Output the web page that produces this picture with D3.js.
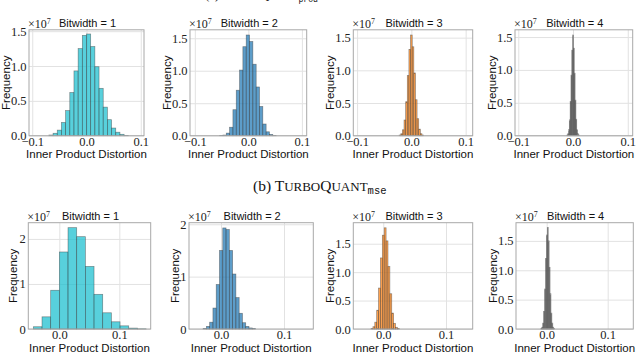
<!DOCTYPE html>
<html>
<head>
<meta charset="utf-8">
<script src="https://cdn.jsdelivr.net/npm/d3@7"></script>
<style>
  html, body { margin: 0; padding: 0; background: #fff; }
  svg { display: block; }
</style>
</head>
<body>
<svg id="chart" width="640" height="353"></svg>
<script>
// ---------------- DATA (counts in units of 1e7) ----------------
const bitwidths = [1, 2, 3, 4];

// (a) TurboQuant_prod histograms
const prodBinStart = [-0.0693, -0.0536, -0.0225, -0.01125];
const prodBinWidth = [0.0077, 0.0062, 0.003, 0.0015];
const prodCounts1 = [0.01, 0.035, 0.08, 0.19, 0.36, 0.62, 0.93, 1.25, 1.44, 1.46, 1.28, 0.99, 0.68, 0.41, 0.23, 0.11, 0.05, 0.02, 0.005];
const prodCounts2 = [0.005, 0.01, 0.04, 0.13, 0.40, 0.70, 1.01, 1.37, 1.55, 1.45, 1.10, 0.75, 0.45, 0.18, 0.06, 0.02, 0.005];
const prodCounts3 = [0.01, 0.03, 0.09, 0.24, 0.52, 0.92, 1.32, 1.54, 1.36, 0.96, 0.55, 0.26, 0.10, 0.03, 0.01];
const prodCounts4 = [0.01, 0.03, 0.09, 0.24, 0.52, 0.92, 1.30, 1.53, 1.33, 0.95, 0.54, 0.25, 0.09, 0.03, 0.01];

// (b) TurboQuant_mse histograms
const mseBinStart = [-0.0433, -0.0284, -0.0195, -0.0095];
const mseBinWidth = [0.01445, 0.0052, 0.003, 0.0015];
const mseCounts1 = [0.05, 0.27, 0.86, 1.71, 2.25, 2.05, 1.39, 0.77, 0.36, 0.16, 0.07, 0.02, 0.005];
const mseCounts2 = [0.01, 0.05, 0.13, 0.40, 0.85, 1.50, 1.93, 1.90, 1.50, 1.05, 0.60, 0.30, 0.12, 0.05, 0.02, 0.01];
const mseCounts3 = [0.01, 0.04, 0.12, 0.33, 0.72, 1.25, 1.65, 1.78, 1.55, 1.10, 0.62, 0.28, 0.10, 0.03, 0.01];
const mseCounts4 = [0.01, 0.03, 0.10, 0.30, 0.68, 1.20, 1.60, 1.73, 1.50, 1.05, 0.60, 0.27, 0.10, 0.03, 0.01];

// tick values / labels
const prodXTicks = [-0.1, 0.0, 0.1];
const prodXTickLabels = ["\u22120.1", "0.0", "0.1"];
const mseXTicks = [0.0, 0.1];
const mseXTickLabels = ["0.0", "0.1"];
const yTicksHalf = [0, 0.5, 1.0, 1.5];
const yTickLabelsHalf = ["0.0", "0.5", "1.0", "1.5"];
const yTicksInt = [0, 1, 2];
const yTickLabelsInt = ["0", "1", "2"];

// axis ranges (units: distortion, 1e7)
const prodXDomain = [[-0.106, 0.106], [-0.109, 0.109], [-0.107, 0.113], [-0.106, 0.109]];
const prodYMax = [1.52, 1.63, 1.62, 1.61];
const mseXDomain = [[-0.0517, 0.1523], [-0.0508, 0.1465], [-0.0478, 0.1426], [-0.0503, 0.142]];
const mseYMax = [2.36, 2.03, 1.87, 1.81];

// ---------------- STYLE / LAYOUT ----------------
const colors = ["#17becf", "#1f77b4", "#ff7f0e", "#7f7f7f"];
const topRow = { top: 29.8, bottom: 135.7, lefts: [29, 190, 353.3, 515], rights: [144, 306.7, 472.7, 632.7], freqX: [5.5, 166.7, 330, 492] };
const botRow = { top: 222.7, bottom: 329, lefts: [28.3, 189, 353.3, 516], rights: [150.7, 313.3, 472.7, 633.3], freqX: [13.3, 175.3, 330, 493] };

const svg = d3.select("#chart");
const serif = "'Liberation Serif', 'Times New Roman', serif";
const sans = "'Liberation Sans', Arial, sans-serif";

function drawPanel(row, i, counts, binStart, binWidth, xDomain, yMax, xTicks, xLabels, yTicks, yLabels) {
  const L = row.lefts[i], R = row.rights[i], T = row.top, B = row.bottom;
  const x = d3.scaleLinear().domain(xDomain).range([L, R]);
  const y = d3.scaleLinear().domain([0, yMax]).range([B, T]);
  const g = svg.append("g");

  // vertical grid + x tick labels
  const xa = g.append("g").attr("transform", `translate(0,${B})`)
    .call(d3.axisBottom(x).tickValues(xTicks).tickFormat((d, k) => xLabels[k])
      .tickSize(-(B - T)).tickPadding(1.2));
  xa.select(".domain").remove();
  xa.selectAll("line").attr("stroke", "#e2e2e2").attr("stroke-width", 1);
  xa.selectAll("text").attr("font-family", serif).attr("font-size", 12.5).attr("fill", "#222");

  // horizontal grid + y tick labels
  const ya = g.append("g").attr("transform", `translate(${L},0)`)
    .call(d3.axisLeft(y).tickValues(yTicks).tickFormat((d, k) => yLabels[k])
      .tickSize(-(R - L)).tickPadding(2.5));
  ya.select(".domain").remove();
  ya.selectAll("line").attr("stroke", "#e2e2e2").attr("stroke-width", 1);
  ya.selectAll("text").attr("font-family", serif).attr("font-size", 12.5).attr("fill", "#222");

  // bars
  const bins = counts.map((c, k) => ({ x0: binStart + k * binWidth, x1: binStart + (k + 1) * binWidth, c }));
  g.append("g").selectAll("rect").data(bins).join("rect")
    .attr("x", d => x(d.x0))
    .attr("width", d => Math.max(0, x(d.x1) - x(d.x0)))
    .attr("y", d => y(d.c))
    .attr("height", d => y(0) - y(d.c))
    .attr("fill", colors[i]).attr("fill-opacity", 0.72)
    .attr("stroke", "#3a3a3a").attr("stroke-opacity", 0.55).attr("stroke-width", 0.7);

  // frame
  g.append("rect").attr("x", L).attr("y", T).attr("width", R - L).attr("height", B - T)
    .attr("fill", "none").attr("stroke", "#a8a8a8").attr("stroke-width", 1);

  // offset text x10^7
  const off = g.append("text").attr("x", L - 1).attr("y", T - 1.5)
    .attr("font-family", serif).attr("font-size", 12).attr("fill", "#222");
  off.append("tspan").text("\u00d710");
  off.append("tspan").attr("font-size", 8).attr("dy", -4.5).text("7");

  // title
  g.append("text").attr("x", (L + R) / 2 + 1).attr("y", T - 3.2).attr("text-anchor", "middle")
    .attr("font-family", sans).attr("font-size", 11).attr("fill", "#111")
    .text(`Bitwidth = ${bitwidths[i]}`);

  // x label
  g.append("text").attr("x", (L + R) / 2).attr("y", B + 22.7).attr("text-anchor", "middle")
    .attr("font-family", sans).attr("font-size", 11.5).attr("fill", "#111")
    .text("Inner Product Distortion");

  // y label
  g.append("text").attr("transform", `translate(${row.freqX[i]},${(T + B) / 2}) rotate(-90)`)
    .attr("text-anchor", "middle").attr("dy", "0.35em")
    .attr("font-family", sans).attr("font-size", 11.5).attr("fill", "#111")
    .text("Frequency");
}

const prodCounts = [prodCounts1, prodCounts2, prodCounts3, prodCounts4];
const mseCounts = [mseCounts1, mseCounts2, mseCounts3, mseCounts4];

prodCounts.forEach((c, i) => drawPanel(topRow, i, c, prodBinStart[i], prodBinWidth[i], prodXDomain[i], prodYMax[i],
  prodXTicks, prodXTickLabels, yTicksHalf, yTickLabelsHalf));
mseCounts.forEach((c, i) => drawPanel(botRow, i, c, mseBinStart[i], mseBinWidth[i], mseXDomain[i], mseYMax[i],
  mseXTicks, mseXTickLabels, i < 2 ? yTicksInt : yTicksHalf, i < 2 ? yTickLabelsInt : yTickLabelsHalf));

// captions
function caption(xPos, yPos, label, sub, big, small, subSize, len) {
  const t = svg.append("text").attr("x", xPos).attr("y", yPos)
    .attr("font-family", serif).attr("font-size", big).attr("fill", "#111");
  if (len) t.attr("textLength", len).attr("lengthAdjust", "spacingAndGlyphs");
  t.append("tspan").text(`(${label}) T`);
  t.append("tspan").attr("font-size", small).text("URBO");
  t.append("tspan").attr("font-size", big).text("Q");
  t.append("tspan").attr("font-size", small).text("UANT");
  t.append("tspan").attr("font-size", subSize).attr("dy", 3).attr("font-family", "'Liberation Mono', monospace").text(sub);
}
caption(205, -1.2, "a", "prod", 13.5, 11, 8.5, 113);
caption(253, 190.8, "b", "mse", 15.5, 13, 10.5, null);
</script>
</body>
</html>
